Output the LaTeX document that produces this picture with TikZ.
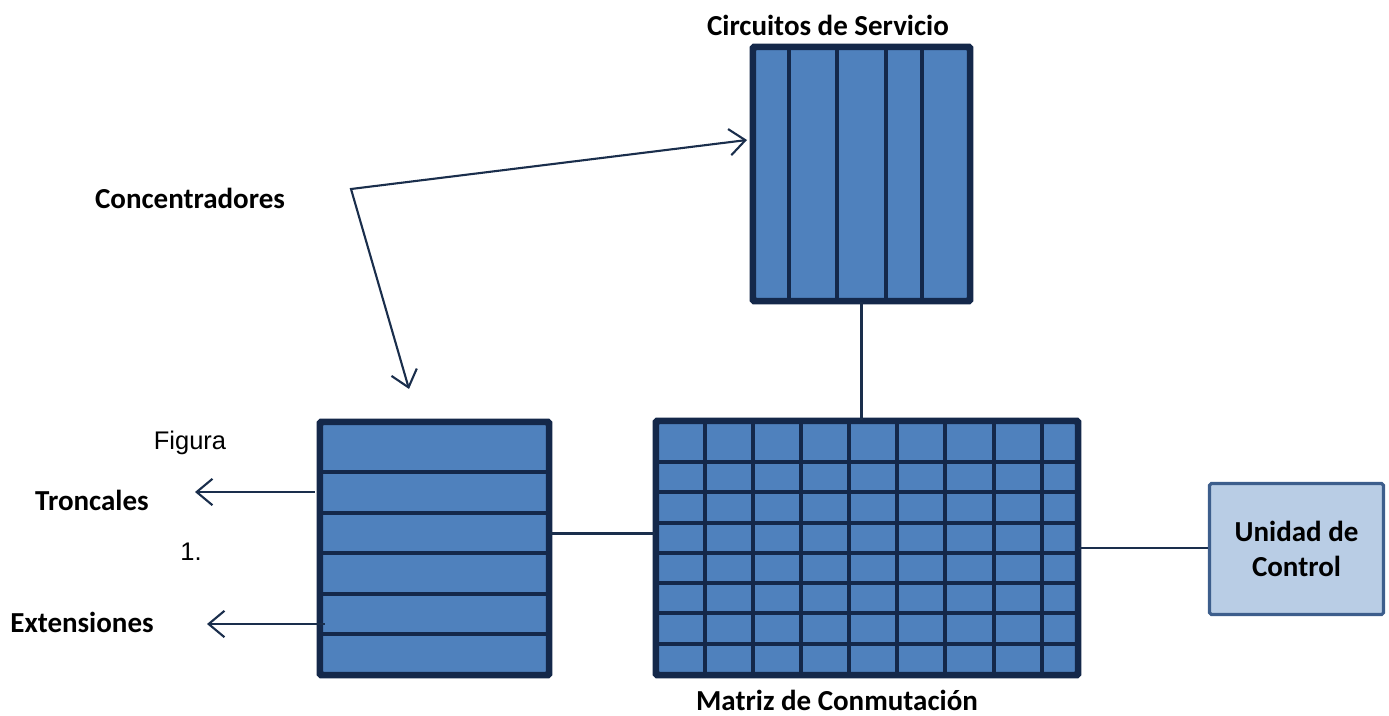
\documentclass[tikz,border=0pt]{standalone}
\usepackage{fontspec}
\setmainfont{Carlito}
\newfontfamily\arial{Liberation Sans}
\usetikzlibrary{arrows.meta}
\definecolor{azul}{HTML}{4F81BD}
\definecolor{borde}{HTML}{14284A}
\definecolor{trazo}{HTML}{1A2E4C}
\definecolor{celeste}{HTML}{B9CDE5}
\definecolor{bordecontrol}{HTML}{3D5E8C}
\tikzset{
	bloque/.style={draw=borde, fill=azul, line width=2.5pt, inner sep=0pt, rounded corners=1pt},
	divisor/.style={draw=borde, line width=1.9pt},
	linea/.style={draw=trazo, line width=1.6pt},
	flecha/.style={draw=trazo, line width=1.2pt, -{Straight Barb[length=9pt,width=15pt,line width=1.2pt]}},
	rotulo/.style={font=\fontsize{16.5}{20}\selectfont\bfseries, inner sep=0pt},
	nota/.style={font=\arial\fontsize{14.5}{17}\selectfont, inner sep=0pt}
}

\begin{document}
\begin{tikzpicture}[x=0.02cm, y=-0.02cm]
			\useasboundingbox (0,0) rectangle (1389,716);
			\node[bloque, minimum width=4.3cm, minimum height=5.04cm] (serv) at (861.5,174) {};
			\node[bloque, minimum width=8.4cm, minimum height=5.04cm] (matriz) at (867,548) {};
			\node[bloque, minimum width=4.54cm, minimum height=5.02cm] (conc) at (434.5,548.5) {};
			\node[draw=bordecontrol, fill=celeste, line width=1.8pt, rounded corners=1pt,
				minimum width=3.48cm, minimum height=2.62cm, align=center,
				font=\fontsize{16.5}{20}\selectfont\bfseries] (control) at (1296.5,549) {Unidad de\\Control};
			\foreach \x in {789,837,886,922}
				\draw[divisor] (\x,49) -- (\x,299);
			\foreach \x in {705,753,801,849,897,945,994,1042}
				\draw[divisor] (\x,423) -- (\x,673);
			\foreach \y in {462,492,523,553,583,613,644}
				\draw[divisor] (658,\y) -- (1076,\y);
			\foreach \y in {472,513,553,594,634}
				\draw[divisor] (322,\y) -- (547,\y);
			\draw[bloque, fill=none] (serv.south west) rectangle (serv.north east);
			\draw[bloque, fill=none] (matriz.south west) rectangle (matriz.north east);
			\draw[bloque, fill=none] (conc.south west) rectangle (conc.north east);

			\draw[linea] (serv.south) -- (serv.south |- matriz.north);
			\draw[linea] ([yshift=0.3cm]conc.east) -- ([yshift=0.3cm]conc.east -| matriz.west);
			\draw[linea] (matriz.east) -- (matriz.east -| control.west);

			\coordinate (codo) at (351,189);
			\coordinate (pserv) at (747,140);
			\coordinate (pconc) at (409,389);
			\coordinate (ptron) at (195,492);
			\coordinate (pext) at (207,624);
			\draw[flecha, {Straight Barb[length=9pt,width=15pt,line width=1.2pt]}-{Straight Barb[length=9pt,width=15pt,line width=1.2pt]}] (pserv) -- (codo) -- (pconc);
			\draw[flecha] ([xshift=-0.08cm]conc.west |- ptron) -- (ptron);
			\draw[flecha] ([xshift=0.12cm]conc.west |- pext) -- (pext);

			\node[rotulo] (tserv) at (828,25) {Circuitos de Servicio};
			\node[rotulo] (tconc) at (190,198) {Concentradores};
			\node[rotulo] (ttron) at (92,500) {Troncales};
			\node[rotulo] (text) at (82,622) {Extensiones};
			\node[rotulo] (tmatriz) at (837,700) {Matriz de Conmutación};
			\node[nota] (tfig) at (190,443) {Figura};
			\node[nota] (tnum) at (191,552) {1.};
		\end{tikzpicture}
\end{document}
